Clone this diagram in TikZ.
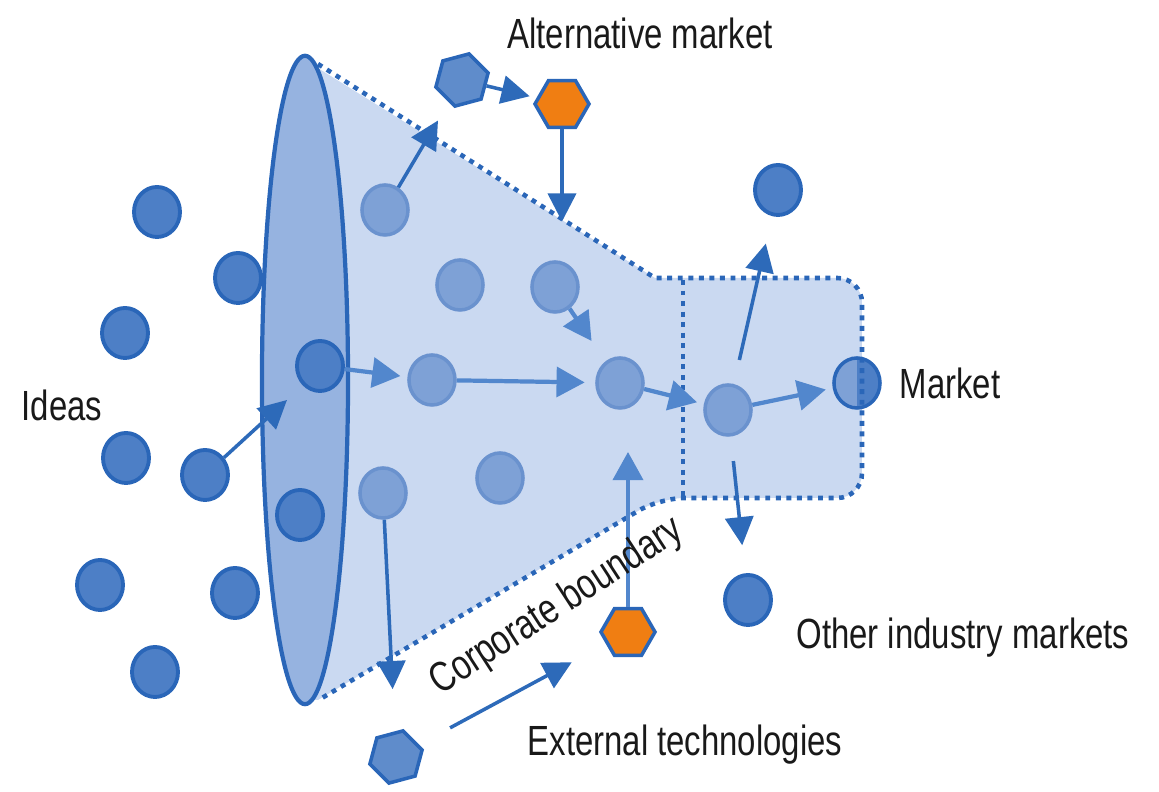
\documentclass[tikz,border=0pt]{standalone}
\usepackage{fontspec}
\usetikzlibrary{shapes.geometric, arrows.meta}
\newfontfamily\labelfont[FakeStretch=0.78]{Liberation Sans}
\definecolor{edgeblue}{HTML}{2A66B8}
\definecolor{ideablue}{HTML}{4D7FC6}
\definecolor{innerblue}{HTML}{7EA1D6}
\definecolor{innerline}{HTML}{6A92CE}
\definecolor{funnelblue}{HTML}{CAD9F1}
\definecolor{mouthblue}{HTML}{96B3E0}
\definecolor{arrowblue}{HTML}{2D6AB9}
\definecolor{softarrow}{HTML}{5287CD}
\definecolor{hexorange}{HTML}{F07E12}
\definecolor{hexblue}{HTML}{5F8CCB}

\begin{document}
\begin{tikzpicture}[x=0.01cm, y=-0.01cm,
  idea/.style={ellipse, draw=edgeblue, fill=ideablue, line width=1.1pt, minimum width=0.46cm, minimum height=0.50cm, inner sep=0pt},
  inner/.style={ellipse, draw=innerline, fill=innerblue, line width=1pt, minimum width=0.46cm, minimum height=0.50cm, inner sep=0pt},
  hexa/.style={regular polygon, regular polygon sides=6, draw=edgeblue, line width=1pt, minimum size=0.54cm, inner sep=0pt},
  arr/.style={draw=arrowblue, line width=1pt, -{Triangle[length=8pt, width=8pt]}},
  arrin/.style={draw=softarrow, line width=1.2pt, -{Triangle[length=8pt, width=8.5pt]}},
  boundary/.style={draw=edgeblue, line width=1.3pt, dash pattern=on 1.4pt off 1.6pt},
  lab/.style={font=\labelfont\fontsize{12}{14}\selectfont, text=black!90, inner sep=0pt}]
\useasboundingbox (0,0) rectangle (1159,792);

% funnel body and its mouth
\fill[funnelblue] (305,60) -- (655,278) [rounded corners=7pt] -- (862,278) -- (862,498) -- (660,498) [sharp corners] -- (318,700) -- (305,700) -- cycle;
\node[ellipse, draw=edgeblue, fill=mouthblue, line width=1.2pt, minimum width=0.86cm, minimum height=6.48cm] (mouth) at (305,380) {};

% ideas outside
\node[idea] (i1) at (157,212) {};
\node[idea] (i2) at (238,278) {};
\node[idea] (i3) at (125,333) {};
\node[idea] (i4) at (126,458) {};
\node[idea] (i5) at (205,475) {};
\node[idea] (i6) at (100,585) {};
\node[idea] (i7) at (235,593) {};
\node[idea] (i8) at (155,672) {};
\node[idea] (c1) at (320,366) {};
\node[idea] (c2) at (300,515) {};

% ideas inside the company
\node[inner] (l1) at (385,210) {};
\node[inner] (l2) at (460,285) {};
\node[inner] (l3) at (555,287) {};
\node[inner] (l4) at (432,380) {};
\node[inner] (l5) at (620,383) {};
\node[inner] (l6) at (500,478) {};
\node[inner] (l7) at (383,493) {};
\node[inner] (l8) at (728,410) {};
\node[inner, draw=edgeblue, path picture={\fill[ideablue] (path picture bounding box.north) rectangle (path picture bounding box.south east);}] (mk) at (857,383) {};

% markets
\node[idea] (o1) at (778,190) {};
\node[idea] (o2) at (748,600) {};

% technologies
\node[hexa, fill=hexblue, rotate=15] (h1) at (462,80) {};
\node[hexa, fill=hexorange] (h2) at (562,104) {};
\node[hexa, fill=hexorange] (h3) at (628,632) {};
\node[hexa, fill=hexblue, rotate=15] (h4) at (396,757) {};

% corporate boundary
\draw[boundary] (318,64) -- (655,278) [rounded corners=7pt] -- (862,278) -- (862,498) -- (660,498) [sharp corners] -- (322,698);
\draw[boundary, line width=1pt] (683,280) -- (683,496);

\coordinate (e1) at (287,400);
\draw[arr] (i5) -- (e1);
\draw[arrin, shorten >=2pt] (c1) -- (l4);
\draw[arrin, shorten >=3pt] (l4) -- (l5);
\draw[arr, shorten >=6pt] (l1) -- (h1);
\draw[arr, shorten >=2pt] (h1) -- (h2);
\draw[arr, shorten >=11pt] (h2) -- (h2 |- l3.north);
\draw[arrin, shorten >=7pt] (l3) -- (l5);
\draw[arrin, shorten >=2pt] (l5) -- (l8);
\draw[arrin, shorten >=2pt] (l8) -- (mk);
\draw[arr, shorten <=7pt, shorten >=8pt] (l8) -- (o1);
\draw[arr, shorten <=7pt, shorten >=8pt] (l8) -- (o2);
\draw[arrin, shorten >=12pt] (h3) -- (h3 |- l5.south);
\draw[arr, shorten >=12pt] (l7) -- (h4);
\draw[arr, shorten <=10pt, shorten >=11pt] (h4) -- (h3);

% labels
\node[lab] (t1) at (640,33) {Alternative market};
\node[lab] (t2) at (62,405) {Ideas};
\node[lab] (t3) at (950,383) {Market};
\node[lab] (t4) at (963,638) {Other industry markets};
\node[lab] (t5) at (685,745) {External technologies};
\node[lab, rotate=33] (t6) at (557,607) {Corporate boundary};
\end{tikzpicture}
\end{document}
